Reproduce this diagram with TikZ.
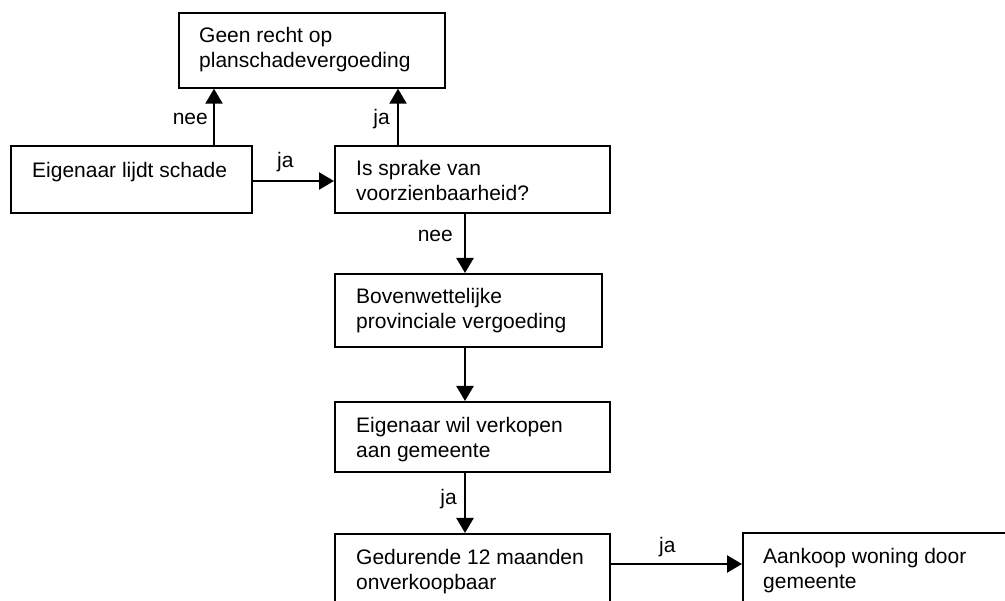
\documentclass[tikz,border=0pt]{standalone}
\usepackage{fontspec}
\setmainfont{Liberation Sans}
\usetikzlibrary{arrows.meta,calc}
\tikzset{
  boxshape/.style={draw=black, line width=1.7pt, rectangle, inner sep=0pt, anchor=north west},
  boxtext/.style={anchor=north west, inner sep=0pt, align=left, font=\fontsize{21}{25.5}\selectfont},
  lbl/.style={inner sep=0pt, font=\fontsize{21}{25.5}\selectfont},
  arr/.style={line width=2.3pt, -{Triangle[width=17pt,length=15pt]}}
}
\begin{document}
\begin{tikzpicture}[x=1pt,y=-1pt]
\useasboundingbox (0,0) rectangle (1005,601);
\clip (0,0) rectangle (1005,601);
% boxes
\node[boxshape, minimum width=266pt, minimum height=75pt] (geen) at (178,12) {};
\node[boxshape, minimum width=241pt, minimum height=67pt] (eig) at (10,145) {};
\node[boxshape, minimum width=275pt, minimum height=67pt] (is) at (334,145) {};
\node[boxshape, minimum width=267pt, minimum height=73pt] (bov) at (334,273) {};
\node[boxshape, minimum width=275pt, minimum height=70pt] (wil) at (334,401) {};
\node[boxshape, minimum width=275pt, minimum height=90pt] (ged) at (334,533) {};
\node[boxshape, minimum width=300pt, minimum height=90pt] (aank) at (742,532) {};
% texts
\node[boxtext] (tgeen) at ($(geen.north west)+(21,15)$) {Geen recht op\\planschadevergoeding};
\node[boxtext] (teig) at ($(eig.north west)+(22,17)$) {Eigenaar lijdt schade};
\node[boxtext] (tis) at ($(is.north west)+(22,15)$) {Is sprake van\\voorzienbaarheid?};
\node[boxtext] (tbov) at ($(bov.north west)+(22,15)$) {Bovenwettelijke\\provinciale vergoeding};
\node[boxtext] (twil) at ($(wil.north west)+(22,16)$) {Eigenaar wil verkopen\\aan gemeente};
\node[boxtext] (tged) at ($(ged.north west)+(22,16)$) {Gedurende 12 maanden\\onverkoopbaar};
\node[boxtext] (taank) at ($(aank.north west)+(21,16)$) {Aankoop woning door\\gemeente};
% connectors
\coordinate (c1) at ($(eig.north west)+(204,0)$);
\draw[arr] (c1) -- (c1 |- geen.south);
\coordinate (c2) at ($(is.north west)+(64,0)$);
\draw[arr] (c2) -- (c2 |- geen.south);
\coordinate (c3) at ($(eig.north east)+(0,36)$);
\draw[arr] (c3) -- (c3 -| is.west);
\coordinate (c4) at ($(is.south west)+(131,0)$);
\draw[arr] (c4) -- (c4 |- bov.north);
\coordinate (c5) at ($(bov.south west)+(131,0)$);
\draw[arr] (c5) -- (c5 |- wil.north);
\coordinate (c6) at ($(wil.south west)+(131,0)$);
\draw[arr] (c6) -- (c6 |- ged.north);
\coordinate (c7) at ($(ged.north east)+(0,31)$);
\draw[arr] (c7) -- (c7 -| aank.west);
% labels
\node[lbl, anchor=base east] (l1) at (208,125) {nee};
\node[lbl, anchor=base east] (l2) at (390,125) {ja};
\node[lbl, anchor=base west] (l3) at (277,168) {ja};
\node[lbl, anchor=base east] (l4) at (453,242) {nee};
\node[lbl, anchor=base east] (l5) at (457,505) {ja};
\node[lbl, anchor=base west] (l6) at (659,553) {ja};
\end{tikzpicture}
\end{document}
